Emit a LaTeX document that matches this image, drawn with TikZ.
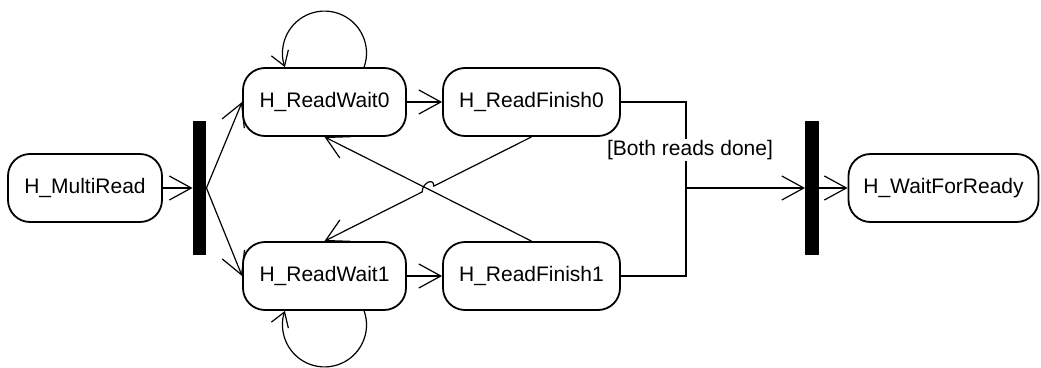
\documentclass[tikz,border=0pt]{standalone}
\usepackage{fontspec}
\setmainfont{Liberation Sans}
\usetikzlibrary{arrows.meta,calc}
\begin{document}
\begin{tikzpicture}[x=1pt,y=1pt,
  state/.style={draw, line width=1.8pt, rounded corners=22pt, minimum height=68pt,
    inner sep=0pt, font=\fontsize{21}{25}\selectfont},
  bar/.style={fill=black, draw=none, minimum width=13.5pt, minimum height=134pt, inner sep=0pt},
  conn/.style={line width=1.2pt},
  tip/.style={-{Straight Barb[length=22pt,width=24pt,line width=1.2pt]}},
  looptip/.style={-{Straight Barb[length=14pt,width=18pt,line width=1.2pt]}},
  guard/.style={fill=white, inner sep=1pt, font=\fontsize{21}{25}\selectfont}]
\useasboundingbox (0,0) rectangle (1041,-367);

% states
\node[state, minimum width=154pt] (mr)  at (85,-188)    {H\_MultiRead};
\node[state, minimum width=163pt] (rw0) at (324.5,-102) {H\_ReadWait0};
\node[state, minimum width=177pt] (rf0) at (531.5,-102) {H\_ReadFinish0};
\node[state, minimum width=163pt] (rw1) at (324.5,-276) {H\_ReadWait1};
\node[state, minimum width=177pt] (rf1) at (531.5,-276) {H\_ReadFinish1};
\node[state, minimum width=190pt] (wfr) at (943.5,-188) {H\_WaitForReady};

% fork and join bars
\node[bar] (fork) at (199.5,-188) {};
\node[bar] (join) at (812,-188) {};
\coordinate (merge) at (686,-188);

% fork
\draw[conn,tip] (mr.east) -- (fork.west);
\draw[conn,tip] (fork.east) -- (rw0.west);
\draw[conn,tip] (fork.east) -- (rw1.west);

% read chains
\draw[conn,tip] (rw0.east) -- (rf0.west);
\draw[conn,tip] (rw1.east) -- (rf1.west);

% self loops
\draw[conn,looptip] ([xshift=39.6pt]rw0.north) arc[start angle=-19.5, end angle=199.5, radius=42pt];
\draw[conn,looptip] ([xshift=39.6pt]rw1.south) arc[start angle=19.5, end angle=-199.5, radius=42pt];

% crossing retries, the second one jumps over the first
\draw[conn,tip] (rf1.north) -- (rw0.south);
\coordinate (cross) at (intersection of rf1.north--rw0.south and rf0.south--rw1.north);
\draw[conn,tip] (rf0.south) -- ($(cross)!6.5pt!(rf0.south)$)
  .. controls +(0,9) and +(0,9) .. ($(cross)!6.5pt!(rw1.north)$) -- (rw1.north);

% join
\draw[conn] (rf0.east) -- (rf0.east -| merge) -- (rf1.east -| merge) -- (rf1.east);
\draw[conn,tip] (merge) -- (join.west);
\node[guard] (g) at (690,-150) {[Both reads done]};
\draw[conn,tip] (join.east) -- (wfr.west);
\end{tikzpicture}
\end{document}
